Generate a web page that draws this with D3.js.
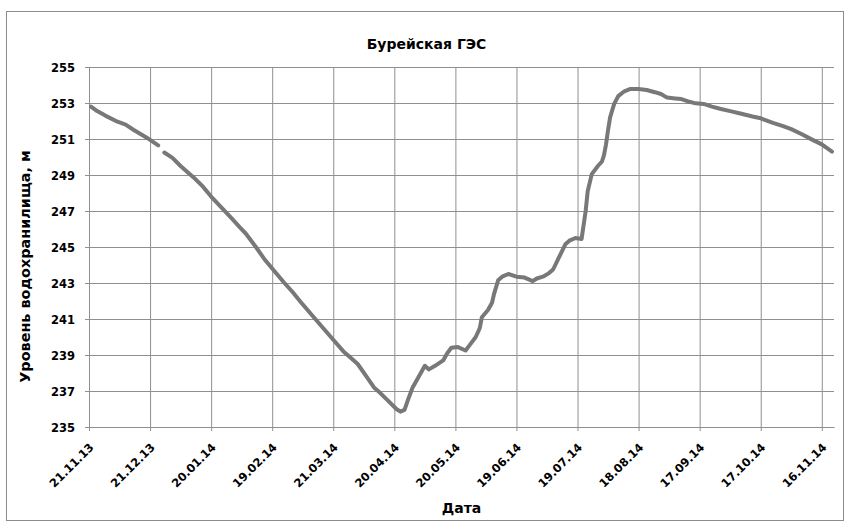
<!DOCTYPE html>
<html><head><meta charset="utf-8">
<script src="https://cdn.jsdelivr.net/npm/d3@7"></script>
<style>
body{margin:0;background:#fff}
svg text{font-family:"DejaVu Sans",sans-serif;font-weight:bold;fill:#000}
</style>
</head><body>
<svg id="c" width="850" height="528"></svg>
<script>
const chartTitle = "Бурейская ГЭС";
const xTitle = "Дата";
const yTitle = "Уровень водохранилища, м";

const dates = [
 "22.11.13","25.11.13","29.11.13","05.12.13","09.12.13","13.12.13","19.12.13","25.12.13","26.12.13",
 "28.12.13","01.01.14","05.01.14","09.01.14","12.01.14","16.01.14","20.01.14","25.01.14","30.01.14",
 "03.02.14","06.02.14","11.02.14","15.02.14","19.02.14","25.02.14","01.03.14","05.03.14","11.03.14",
 "16.03.14","21.03.14","26.03.14","29.03.14","02.04.14","06.04.14","10.04.14","13.04.14","17.04.14",
 "21.04.14","23.04.14","25.04.14","27.04.14","29.04.14","01.05.14","03.05.14","05.05.14","07.05.14",
 "10.05.14","14.05.14","16.05.14","18.05.14","21.05.14","25.05.14","27.05.14","30.05.14","01.06.14",
 "02.06.14","05.06.14","07.06.14","08.06.14","10.06.14","12.06.14","15.06.14","19.06.14","23.06.14",
 "27.06.14","29.06.14","02.07.14","05.07.14","07.07.14","10.07.14","13.07.14","15.07.14","18.07.14",
 "21.07.14","23.07.14","24.07.14","26.07.14","29.07.14","31.07.14","01.08.14","02.08.14","03.08.14",
 "04.08.14","06.08.14","08.08.14","11.08.14","14.08.14","18.08.14","22.08.14","26.08.14","29.08.14",
 "01.09.14","05.09.14","08.09.14","11.09.14","15.09.14","19.09.14","23.09.14","27.09.14","02.10.14",
 "07.10.14","13.10.14","17.10.14","23.10.14","28.10.14","01.11.14","06.11.14","11.11.14","16.11.14",
 "21.11.14"
];
const levels = [
 252.8,252.55,252.3,251.96,251.8,251.5,251.1,250.65,null,
 250.25,249.95,249.5,249.1,248.8,248.35,247.8,247.2,246.6,
 246.1,245.75,245.0,244.35,243.8,243.0,242.5,241.95,241.15,
 240.5,239.85,239.2,238.9,238.5,237.85,237.2,236.9,236.45,
 236.0,235.85,235.95,236.6,237.2,237.6,238.0,238.4,238.2,
 238.4,238.7,239.1,239.4,239.45,239.25,239.55,240.0,240.5,
 241.1,241.5,241.9,242.4,243.15,243.35,243.5,243.35,243.3,
 243.1,243.25,243.35,243.55,243.75,244.45,245.15,245.35,245.5,
 245.45,247.0,248.1,249.05,249.5,249.75,250.1,250.7,251.5,
 252.2,252.95,253.38,253.65,253.78,253.78,253.72,253.6,253.5,
 253.3,253.25,253.22,253.1,252.98,252.95,252.8,252.68,252.55,
 252.42,252.25,252.15,251.9,251.72,251.55,251.28,250.98,250.7,
 250.3
];
const xTickLabels = ["21.11.13","21.12.13","20.01.14","19.02.14","21.03.14","20.04.14","20.05.14",
 "19.06.14","19.07.14","18.08.14","17.09.14","17.10.14","16.11.14"];
const yTicks = [235,237,239,241,243,245,247,249,251,253,255];
const xDomain = ["21.11.13","22.11.14"];

const parse = d3.timeParse("%d.%m.%y");
const fmt = d3.timeFormat("%d.%m.%y");
const data = dates.map((d,i)=>({date:parse(d), v:levels[i]}));

const L=89, R=834, T=67, B=427;
const svg = d3.select("#c");
svg.append("rect").attr("x",6.5).attr("y",11.5).attr("width",837).attr("height",509)
  .attr("fill","#fff").attr("stroke","#8c8c8c");

const x = d3.scaleTime().domain(xDomain.map(parse)).range([L,R]);
const y = d3.scaleLinear().domain([235,255]).range([B,T]);
const gridColor = "#8f8f8f";

// horizontal grid
const gy = svg.append("g").attr("transform",`translate(${L},0)`)
  .call(d3.axisLeft(y).tickValues(yTicks).tickSize(-(R-L)).tickFormat(""));
gy.select(".domain").remove();
gy.selectAll("line").attr("stroke",gridColor);
// vertical grid
const gx = svg.append("g").attr("transform",`translate(0,${B})`)
  .call(d3.axisBottom(x).tickValues(xTickLabels.map(parse)).tickSize(-(B-T)).tickFormat(""));
gx.select(".domain").remove();
gx.selectAll("line").attr("stroke",gridColor);

// y axis
const ay = svg.append("g").attr("transform",`translate(${L},0)`)
  .call(d3.axisLeft(y).tickValues(yTicks).tickSize(4).tickSizeOuter(0).tickPadding(10));
ay.select(".domain").attr("stroke",gridColor);
ay.selectAll("line").attr("stroke",gridColor);
ay.selectAll("text").attr("font-size","11.5px").attr("x",-14).attr("dy","0.36em");

// x axis
const ax = svg.append("g").attr("transform",`translate(0,${B})`)
  .call(d3.axisBottom(x).tickValues(xTickLabels.map(parse)).tickSize(4).tickSizeOuter(0).tickFormat(fmt));
ax.select(".domain").attr("stroke",gridColor);
ax.selectAll("line").attr("stroke",gridColor);
ax.selectAll("text").attr("font-size","11.5px").attr("x",0).attr("y",0).attr("dy",0)
  .attr("text-anchor","end").attr("transform","translate(5,21) rotate(-45)");

// line
const line = d3.line().defined(d=>d.v!=null).x(d=>x(d.date)).y(d=>y(d.v));
svg.append("path").datum(data).attr("d",line).attr("fill","none")
  .attr("stroke","#787878").attr("stroke-width",4)
  .attr("stroke-linejoin","round").attr("stroke-linecap","round");

// titles
svg.append("text").attr("x",426.5).attr("y",48.5).attr("text-anchor","middle")
  .attr("font-size","14px").text(chartTitle);
svg.append("text").attr("x",(L+R)/2).attr("y",513).attr("text-anchor","middle")
  .attr("font-size","14px").text(xTitle);
svg.append("text").attr("transform","translate(29.5,266.5) rotate(-90)").attr("text-anchor","middle")
  .attr("font-size","14.4px").text(yTitle);
</script>
</body></html>
